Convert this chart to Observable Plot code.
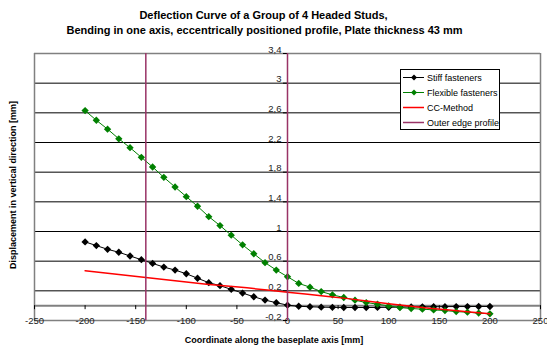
<!DOCTYPE html>
<html><head><meta charset="utf-8">
<script src="https://cdn.jsdelivr.net/npm/d3@7"></script>
<script src="https://cdn.jsdelivr.net/npm/@observablehq/plot@0.6"></script>
<style>
body{margin:0;background:#fff;font-family:"Liberation Sans",Arial,sans-serif;}
#wrap{position:relative;width:547px;height:347px;overflow:hidden;}
#chart{position:absolute;left:0;top:0;}
.t{position:absolute;white-space:nowrap;color:#000;}
#legend{position:absolute;left:400px;top:69px;width:98px;height:59px;border:1px solid #000;background:#fff;font-size:9px;box-sizing:content-box;}
#legend .row{display:flex;align-items:center;height:15px;padding-left:2px;white-space:nowrap;}
#legend svg{margin-right:3px;flex:none;}
</style></head><body>
<div id="wrap">
  <div id="chart"></div>
  <div class="t" style="left:0;width:527px;text-align:center;top:9px;font-weight:bold;font-size:11px;">Deflection Curve of a Group of 4 Headed Studs,</div>
  <div class="t" style="left:0;width:529px;text-align:center;top:24px;font-weight:bold;font-size:11px;">Bending in one axis, eccentrically positioned profile, Plate thickness 43 mm</div>
  <div class="t" style="left:-87px;width:200px;text-align:center;top:180px;font-weight:bold;font-size:9px;transform:rotate(-90deg);">Displacement in vertical direction [mm]</div>
  <div class="t" style="left:174px;width:200px;text-align:center;top:335px;font-weight:bold;font-size:9px;">Coordinate along the baseplate axis [mm]</div>
  <div id="legend"></div>
</div>
<script>
// ---- data ----
const xPositions = [-200, -188.9, -177.8, -166.7, -155.6, -144.4, -133.3, -122.2, -111.1, -100, -88.9, -77.8, -66.7, -55.6, -44.4, -33.3, -22.2, -11.1, 0, 11.1, 22.2, 33.3, 44.4, 55.6, 66.7, 77.8, 88.9, 100, 111.1, 122.2, 133.3, 144.4, 155.6, 166.7, 177.8, 188.9, 200];
const stiffValues = [0.86, 0.81, 0.76, 0.72, 0.67, 0.62, 0.57, 0.52, 0.48, 0.43, 0.37, 0.31, 0.27, 0.22, 0.17, 0.12, 0.075, 0.04, 0.007, -0.008, -0.015, -0.02, -0.023, -0.025, -0.025, -0.025, -0.024, -0.022, -0.02, -0.018, -0.016, -0.015, -0.013, -0.012, -0.012, -0.011, -0.011];
const flexibleValues = [2.63, 2.50, 2.38, 2.25, 2.13, 2.00, 1.87, 1.73, 1.60, 1.47, 1.34, 1.20, 1.08, 0.95, 0.82, 0.70, 0.58, 0.48, 0.39, 0.30, 0.25, 0.19, 0.146, 0.11, 0.074, 0.042, 0.02, -0.003, -0.025, -0.039, -0.047, -0.057, -0.066, -0.08, -0.088, -0.10, -0.11];
const ccX = [-200, -180, -160, -140, -120, -100, -80, -60, -40, -20, 0, 20, 40, 60, 80, 100, 120, 140, 160, 180, 200];
const ccValues = [0.47, 0.44, 0.41, 0.38, 0.35, 0.32, 0.29, 0.265, 0.24, 0.21, 0.18, 0.155, 0.125, 0.095, 0.06, 0.025, -0.005, -0.035, -0.06, -0.085, -0.11];
const outerEdgeX = [-140, 0];
const xTicks = [-250, -200, -150, -100, -50, 0, 50, 100, 150, 200, 250];
const yTicks = [-0.2, 0.2, 0.6, 1, 1.4, 1.8, 2.2, 2.6, 3, 3.4];
const yTickLabels = ["-0,2", "0,2", "0,6", "1", "1,4", "1,8", "2,2", "2,6", "3", "3,4"];
const seriesNames = ["Stiff fasteners", "Flexible fasteners", "CC-Method", "Outer edge profile"];
const seriesColors = ["#000000", "#008000", "#ff0000", "#993366"];

const stiff = xPositions.map((x, i) => ({x, y: stiffValues[i]}));
const flexible = xPositions.map((x, i) => ({x, y: flexibleValues[i]}));
const cc = ccX.map((x, i) => ({x, y: ccValues[i]}));
const yTickData = yTicks.map((v, i) => ({v, label: yTickLabels[i]}));
const innerGrid = yTicks.filter(v => v !== -0.2 && v !== 3.4);

const font = "Liberation Sans, Arial, sans-serif";
const chart = Plot.plot({
  width: 547, height: 347,
  marginLeft: 34, marginRight: 7, marginTop: 53, marginBottom: 27,
  x: {domain: [-250, 250], axis: null},
  y: {domain: [-0.2, 3.4], axis: null},
  style: {fontFamily: font, background: "#fff"},
  marks: [
    Plot.ruleY(innerGrid, {stroke: "#000", strokeWidth: 1}),
    Plot.ruleY([-0.2, 3.4], {stroke: "#808080", strokeWidth: 1.5}),
    Plot.ruleX([-250, 250], {stroke: "#808080", strokeWidth: 1.5}),
    // x axis at y = 0
    Plot.ruleY([0], {stroke: "#808080", strokeWidth: 2}),
    Plot.ruleX(xTicks, {x: d => d, y1: 0, y2: 0, insetBottom: -4, stroke: "#000"}),
    Plot.text(xTicks, {x: d => d, y: -0.2, text: d => String(d), fontSize: 9.5, fill: "#222", lineAnchor: "middle", dy: 0}),
    // y axis ticks at x = 0
    Plot.ruleY(yTicks, {y: d => d, x1: 0, x2: 0, insetLeft: -4, stroke: "#000"}),
    Plot.text(yTickData, {x: 0, y: "v", text: "label", textAnchor: "end", dx: -6, dy: -4, fontSize: 9.5, fill: "#222"}),
    // series
    Plot.line(stiff, {x: "x", y: "y", stroke: seriesColors[0], strokeWidth: 1}),
    Plot.dot(stiff, {x: "x", y: "y", symbol: "diamond2", r: 3.3, fill: seriesColors[0], stroke: null}),
    Plot.line(flexible, {x: "x", y: "y", stroke: seriesColors[1], strokeWidth: 1}),
    Plot.dot(flexible, {x: "x", y: "y", symbol: "diamond2", r: 3.3, fill: seriesColors[1], stroke: null}),
    Plot.line(cc, {x: "x", y: "y", stroke: seriesColors[2], strokeWidth: 1.5}),
    Plot.ruleX(outerEdgeX, {x: d => d, y1: -0.2, y2: 3.4, stroke: seriesColors[3], strokeWidth: 1.5})
  ]
});
document.getElementById("chart").appendChild(chart);

// legend
const legend = document.getElementById("legend");
seriesNames.forEach((name, i) => {
  const row = document.createElement("div");
  row.className = "row";
  const marker = i < 2 ? `<path d="M11 2.5 L14 5.5 L11 8.5 L8 5.5 Z" fill="${seriesColors[i]}"/>` : "";
  row.innerHTML = `<svg width="21" height="11"><line x1="0" x2="21" y1="5.5" y2="5.5" stroke="${seriesColors[i]}" stroke-width="${i < 2 ? 1 : 1.5}"/>${marker}</svg><span>${name}</span>`;
  legend.appendChild(row);
});
</script>
</body></html>
